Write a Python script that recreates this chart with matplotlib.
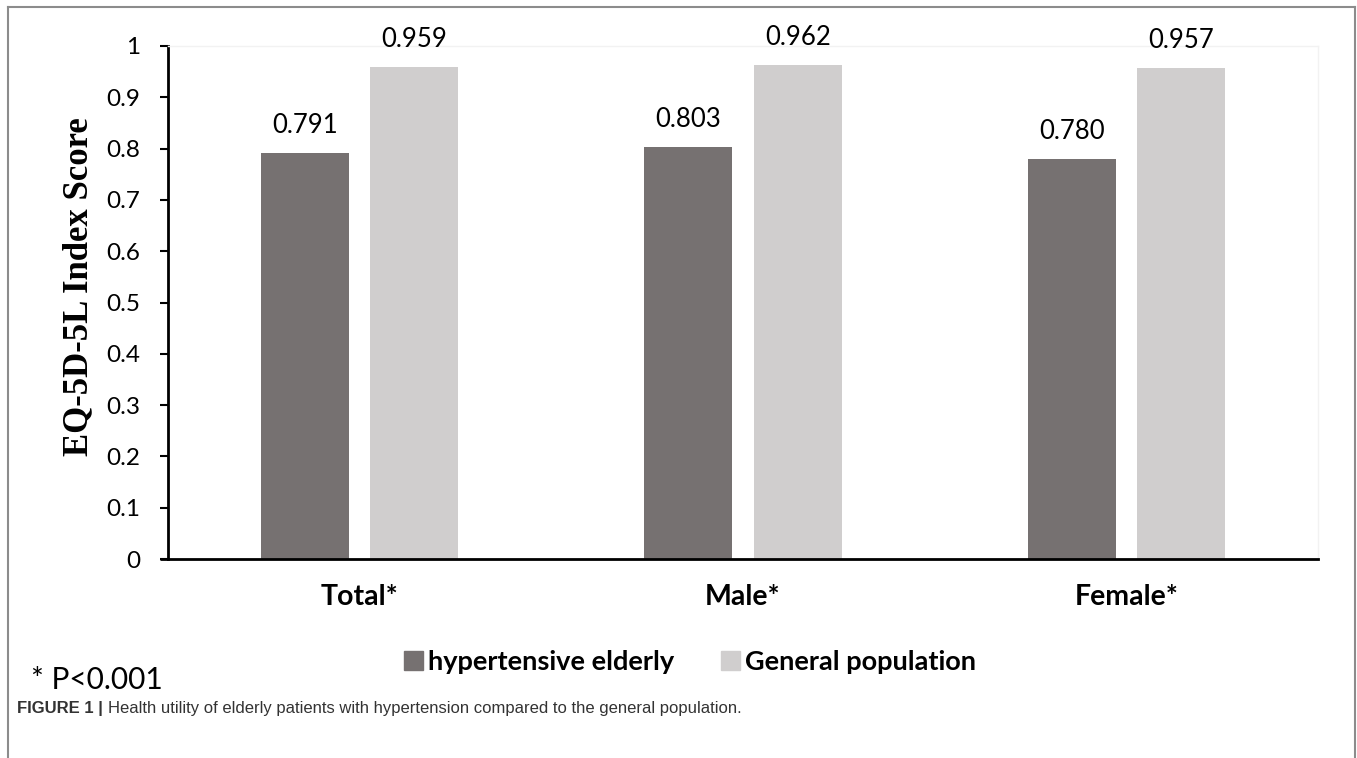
import numpy as np
import matplotlib
matplotlib.use("Agg")
import matplotlib.pyplot as plt
from matplotlib.lines import Line2D
from matplotlib.patches import Patch

categories = ["Total*", "Male*", "Female*"]
hypertensive = [0.791, 0.803, 0.780]
general = [0.959, 0.962, 0.957]
series_names = ["hypertensive elderly", "General population"]
yticks = [0, 0.1, 0.2, 0.3, 0.4, 0.5, 0.6, 0.7, 0.8, 0.9, 1]
ytick_labels = ["0", "0.1", "0.2", "0.3", "0.4", "0.5", "0.6", "0.7", "0.8", "0.9", "1"]

dark = "#767171"
light = "#D0CECE"
sans = ["Lato", "DejaVu Sans"]

W, H = 1357, 758
fig = plt.figure(figsize=(W / 100, H / 100), dpi=100)
ax = fig.add_axes([168 / W, 1 - 559 / H, (1318 - 168) / W, (559 - 46) / H])

x = np.arange(len(categories))
bw = 0.23
gap = 0.055
off = (bw + gap) / 2
b1 = ax.bar(x - off, hypertensive, bw, color=dark, label=series_names[0])
b2 = ax.bar(x + off, general, bw, color=light, label=series_names[1])

for bars, vals in [(b1, hypertensive), (b2, general)]:
    for r, v in zip(bars, vals):
        ax.annotate(f"{v:.3f}", (r.get_x() + r.get_width() / 2, v),
                    xytext=(0, 11), textcoords="offset points",
                    ha="center", va="bottom", fontsize=18.5, family=sans)

ax.set_xlim(-0.5, 2.5)
ax.set_ylim(0, 1)
ax.set_yticks(yticks)
ax.set_yticklabels(ytick_labels, family=sans, fontsize=17.5)
ax.set_xticks(x)
ax.set_xticklabels(categories, family=sans, fontsize=20.5, fontweight="bold")
ax.tick_params(axis="x", length=0, pad=18)
ax.tick_params(axis="y", length=6, width=1.5, pad=14, direction="out")

ax.spines["left"].set_linewidth(2)
ax.spines["bottom"].set_linewidth(2)
ax.spines["top"].set_color("#f2f2f2")
ax.spines["right"].set_color("#f2f2f2")
ax.spines["top"].set_linewidth(1)
ax.spines["right"].set_linewidth(1)

ax.set_ylabel("EQ-5D-5L Index Score", family="Liberation Serif", fontweight="bold",
              fontsize=25)
ax.yaxis.set_label_coords((95 - 168) / 1150, 0.53)

# x axis line extends left past the y axis like Excel
ax.plot([-0.5 - 8 / 383.3, -0.5], [0, 0], color="black", lw=2, clip_on=False,
        solid_capstyle="butt")

leg = fig.legend(handles=[Patch(color=dark), Patch(color=light)], labels=series_names,
                 loc="center", bbox_to_anchor=(690 / W, 1 - 662 / H), ncol=2,
                 frameon=False, handlelength=0.7, handleheight=0.7, handletextpad=0.2,
                 columnspacing=1.7, prop={"family": sans, "weight": "bold", "size": 19.5})

fig.text(31 / W, 1 - 680 / H, "* P<0.001", family=sans, fontsize=21.5, va="center", ha="left")

cap_font = ["Liberation Sans Narrow", "Liberation Sans", "DejaVu Sans"]
t1 = fig.text(17 / W, 1 - 708 / H, "FIGURE 1 |", family=cap_font, fontsize=12,
              fontweight="bold", color="#333333", va="center", ha="left")
fig.canvas.draw()
bb = t1.get_window_extent()
fig.text((bb.x1 + 5) / W, 1 - 708 / H,
         "Health utility of elderly patients with hypertension compared to the general population.",
         family=cap_font, fontsize=12, color="#333333", va="center", ha="left")

# frame around the figure (open at the bottom)
fc = "#8c8c8c"
fig.add_artist(Line2D([8 / W, 8 / W], [0, 1 - 7 / H], color=fc, lw=1.5))
fig.add_artist(Line2D([8 / W, 1355 / W], [1 - 7 / H, 1 - 7 / H], color=fc, lw=1.5))
fig.add_artist(Line2D([1355 / W, 1355 / W], [0, 1 - 7 / H], color=fc, lw=1.5))

fig.savefig("out.png", dpi=100)
